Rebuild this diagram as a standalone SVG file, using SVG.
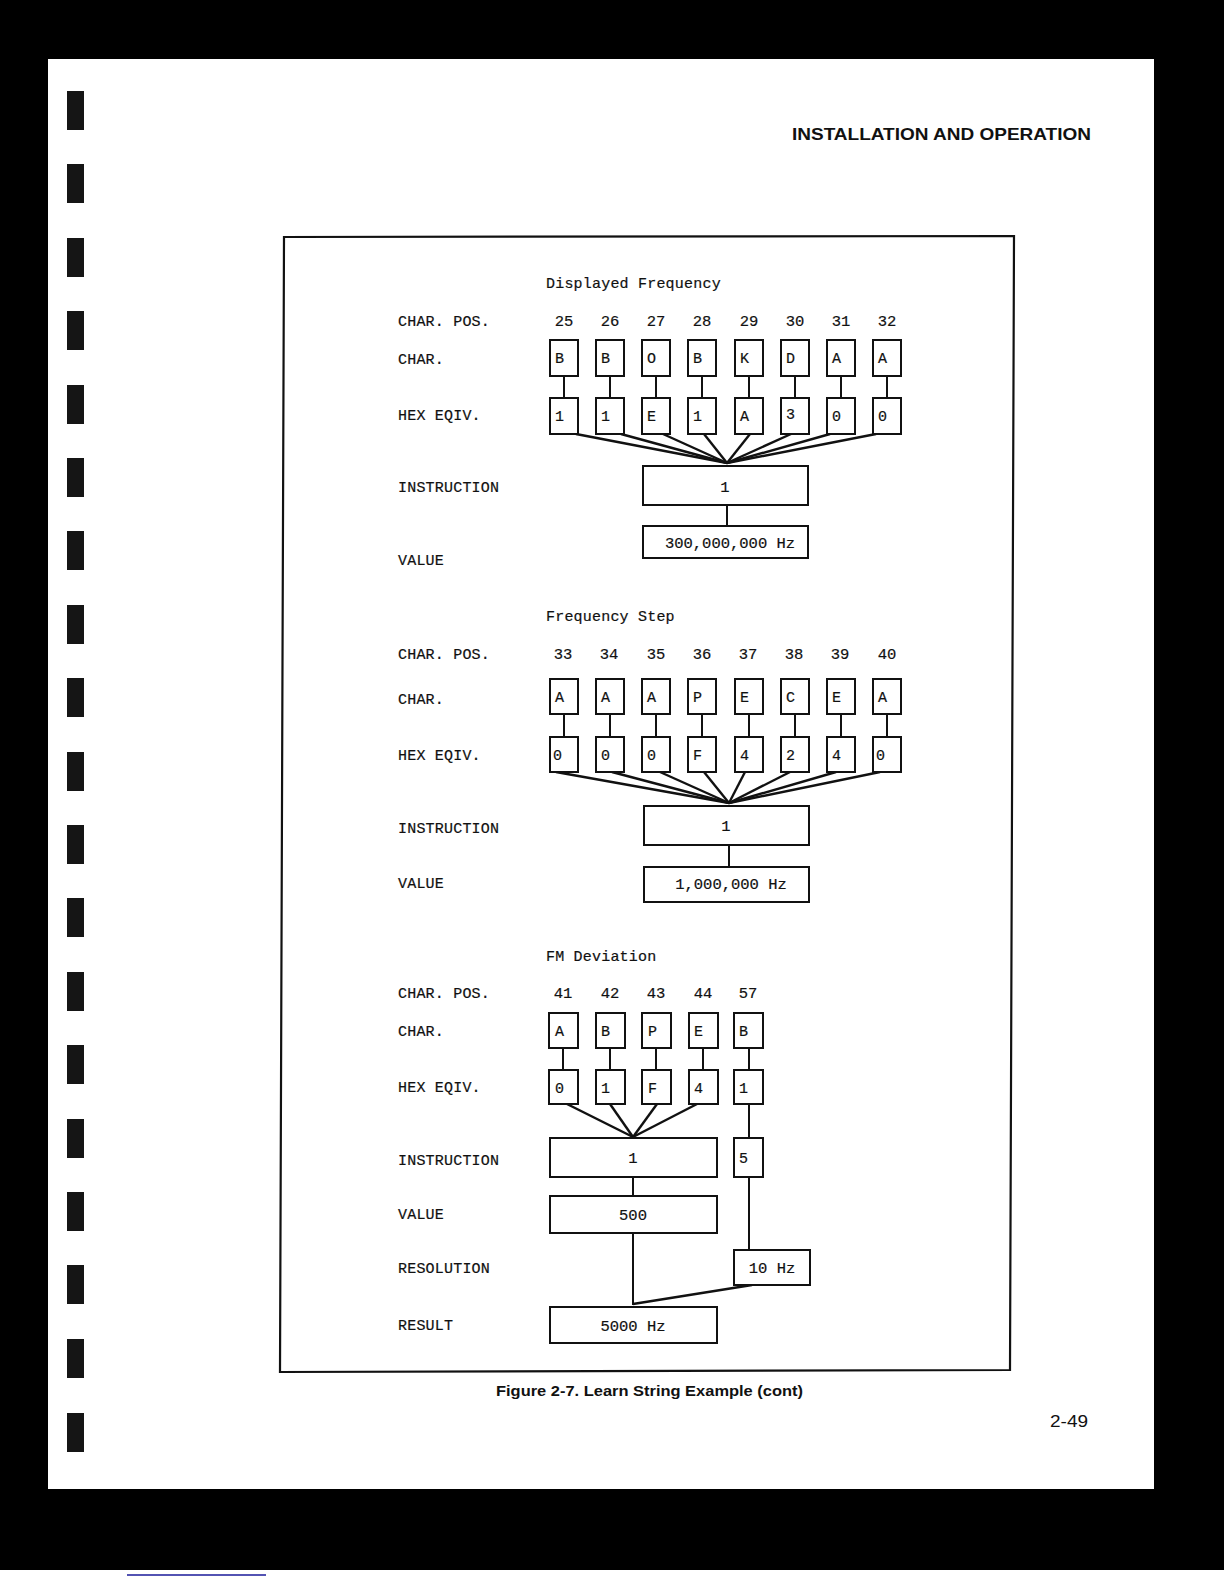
<svg xmlns="http://www.w3.org/2000/svg" width="1224" height="1584" viewBox="0 0 1224 1584">
<style>
.lbl{font-family:"Liberation Mono","DejaVu Sans Mono",monospace;font-size:15px;letter-spacing:0.2px;fill:#111;stroke:#111;stroke-width:0.2}
.num{font-family:"Liberation Mono","DejaVu Sans Mono",monospace;font-size:15.5px;fill:#111;stroke:#111;stroke-width:0.2;text-anchor:middle}
.bx{fill:#fff;stroke:#111;stroke-width:2}
.ln{stroke:#111;stroke-width:2;fill:none}
.fan{stroke:#111;stroke-width:2.4;fill:none}
.hole{fill:#151515}
</style>
<rect x="0" y="0" width="1224" height="1584" fill="#000"/>
<rect x="48" y="59" width="1106" height="1430" fill="#fff"/>
<rect x="0" y="1570" width="1224" height="14" fill="#fff"/>
<line x1="127" y1="1575" x2="266" y2="1575" stroke="#1a1a9a" stroke-width="1.5"/>
<g id="binder-holes">
<rect class="hole" x="67" y="91" width="17" height="39"/>
<rect class="hole" x="67" y="164" width="17" height="39"/>
<rect class="hole" x="67" y="238" width="17" height="39"/>
<rect class="hole" x="67" y="311" width="17" height="39"/>
<rect class="hole" x="67" y="385" width="17" height="39"/>
<rect class="hole" x="67" y="458" width="17" height="39"/>
<rect class="hole" x="67" y="531" width="17" height="39"/>
<rect class="hole" x="67" y="605" width="17" height="39"/>
<rect class="hole" x="67" y="678" width="17" height="39"/>
<rect class="hole" x="67" y="752" width="17" height="39"/>
<rect class="hole" x="67" y="825" width="17" height="39"/>
<rect class="hole" x="67" y="898" width="17" height="39"/>
<rect class="hole" x="67" y="972" width="17" height="39"/>
<rect class="hole" x="67" y="1045" width="17" height="39"/>
<rect class="hole" x="67" y="1119" width="17" height="39"/>
<rect class="hole" x="67" y="1192" width="17" height="39"/>
<rect class="hole" x="67" y="1265" width="17" height="39"/>
<rect class="hole" x="67" y="1339" width="17" height="39"/>
<rect class="hole" x="67" y="1413" width="17" height="39"/>
</g>
<text x="792" y="140" font-family="Liberation Sans,Arial,sans-serif" font-weight="bold" font-size="16.5" textLength="299" lengthAdjust="spacingAndGlyphs" fill="#111">INSTALLATION AND OPERATION</text>
<polygon id="frame" points="284,237 1014,236 1010,1370 280,1372" fill="none" stroke="#111" stroke-width="2.2"/>

<!-- Section 1: Displayed Frequency -->
<g id="sec1-labels">
<text class="lbl" x="546" y="288">Displayed Frequency</text>
<text class="lbl" x="398" y="326">CHAR. POS.</text>
<text class="lbl" x="398" y="364">CHAR.</text>
<text class="lbl" x="398" y="420">HEX EQIV.</text>
<text class="lbl" x="398" y="492">INSTRUCTION</text>
<text class="lbl" x="398" y="565">VALUE</text>
<text class="num" x="564" y="326">25</text>
<text class="num" x="610" y="326">26</text>
<text class="num" x="656" y="326">27</text>
<text class="num" x="702" y="326">28</text>
<text class="num" x="749" y="326">29</text>
<text class="num" x="795" y="326">30</text>
<text class="num" x="841" y="326">31</text>
<text class="num" x="887" y="326">32</text>
</g>
<g id="sec1-connectors">
<line class="ln" x1="564" y1="376" x2="564" y2="398"/>
<line class="ln" x1="610" y1="376" x2="610" y2="398"/>
<line class="ln" x1="656" y1="376" x2="656" y2="398"/>
<line class="ln" x1="702" y1="376" x2="702" y2="398"/>
<line class="ln" x1="749" y1="376" x2="749" y2="398"/>
<line class="ln" x1="795" y1="376" x2="795" y2="398"/>
<line class="ln" x1="841" y1="376" x2="841" y2="398"/>
<line class="ln" x1="887" y1="376" x2="887" y2="398"/>
<line class="fan" x1="576" y1="434" x2="727" y2="463"/>
<line class="fan" x1="621" y1="434" x2="727" y2="463"/>
<line class="fan" x1="663" y1="434" x2="727" y2="463"/>
<line class="fan" x1="704" y1="434" x2="727" y2="463"/>
<line class="fan" x1="750" y1="434" x2="727" y2="463"/>
<line class="fan" x1="791" y1="434" x2="727" y2="463"/>
<line class="fan" x1="830" y1="434" x2="727" y2="463"/>
<line class="fan" x1="876" y1="434" x2="727" y2="463"/>
<line class="ln" x1="727" y1="505" x2="727" y2="526"/>
</g>
<g id="sec1-char">
<rect class="bx" x="550" y="340" width="28" height="36"/><text class="lbl" x="555" y="363">B</text>
<rect class="bx" x="596" y="340" width="28" height="36"/><text class="lbl" x="601" y="363">B</text>
<rect class="bx" x="642" y="340" width="28" height="36"/><text class="lbl" x="647" y="363">O</text>
<rect class="bx" x="688" y="340" width="28" height="36"/><text class="lbl" x="693" y="363">B</text>
<rect class="bx" x="735" y="340" width="28" height="36"/><text class="lbl" x="740" y="363">K</text>
<rect class="bx" x="781" y="340" width="28" height="36"/><text class="lbl" x="786" y="363">D</text>
<rect class="bx" x="827" y="340" width="28" height="36"/><text class="lbl" x="832" y="363">A</text>
<rect class="bx" x="873" y="340" width="28" height="36"/><text class="lbl" x="878" y="363">A</text>
</g>
<g id="sec1-hex">
<rect class="bx" x="550" y="398" width="28" height="36"/><text class="lbl" x="555" y="421">1</text>
<rect class="bx" x="596" y="398" width="28" height="36"/><text class="lbl" x="601" y="421">1</text>
<rect class="bx" x="642" y="398" width="28" height="36"/><text class="lbl" x="647" y="421">E</text>
<rect class="bx" x="688" y="398" width="28" height="36"/><text class="lbl" x="693" y="421">1</text>
<rect class="bx" x="735" y="398" width="28" height="36"/><text class="lbl" x="740" y="421">A</text>
<rect class="bx" x="781" y="398" width="28" height="36"/><text class="lbl" x="786" y="419">3</text>
<rect class="bx" x="827" y="398" width="28" height="36"/><text class="lbl" x="832" y="421">0</text>
<rect class="bx" x="873" y="398" width="28" height="36"/><text class="lbl" x="878" y="421">0</text>
</g>
<g id="sec1-instruction"><rect class="bx" x="643" y="466" width="165" height="39"/><text class="num" x="725" y="492">1</text></g>
<g id="sec1-value"><rect class="bx" x="643" y="526" width="165" height="32"/><text class="num" x="730" y="548">300,000,000 Hz</text></g>

<!-- Section 2: Frequency Step -->
<g id="sec2-labels">
<text class="lbl" x="546" y="621">Frequency Step</text>
<text class="lbl" x="398" y="659">CHAR. POS.</text>
<text class="lbl" x="398" y="704">CHAR.</text>
<text class="lbl" x="398" y="760">HEX EQIV.</text>
<text class="lbl" x="398" y="833">INSTRUCTION</text>
<text class="lbl" x="398" y="888">VALUE</text>
<text class="num" x="563" y="659">33</text>
<text class="num" x="609" y="659">34</text>
<text class="num" x="656" y="659">35</text>
<text class="num" x="702" y="659">36</text>
<text class="num" x="748" y="659">37</text>
<text class="num" x="794" y="659">38</text>
<text class="num" x="840" y="659">39</text>
<text class="num" x="887" y="659">40</text>
</g>
<g id="sec2-connectors">
<line class="ln" x1="564" y1="714" x2="564" y2="737"/>
<line class="ln" x1="610" y1="714" x2="610" y2="737"/>
<line class="ln" x1="656" y1="714" x2="656" y2="737"/>
<line class="ln" x1="702" y1="714" x2="702" y2="737"/>
<line class="ln" x1="749" y1="714" x2="749" y2="737"/>
<line class="ln" x1="795" y1="714" x2="795" y2="737"/>
<line class="ln" x1="841" y1="714" x2="841" y2="737"/>
<line class="ln" x1="887" y1="714" x2="887" y2="737"/>
<line class="fan" x1="556" y1="772" x2="729" y2="803"/>
<line class="fan" x1="612" y1="772" x2="729" y2="803"/>
<line class="fan" x1="660" y1="772" x2="729" y2="803"/>
<line class="fan" x1="704" y1="772" x2="729" y2="803"/>
<line class="fan" x1="745" y1="772" x2="729" y2="803"/>
<line class="fan" x1="790" y1="772" x2="729" y2="803"/>
<line class="fan" x1="836" y1="772" x2="729" y2="803"/>
<line class="fan" x1="880" y1="772" x2="729" y2="803"/>
<line class="ln" x1="729" y1="845" x2="729" y2="867"/>
</g>
<g id="sec2-char">
<rect class="bx" x="550" y="679" width="28" height="35"/><text class="lbl" x="555" y="702">A</text>
<rect class="bx" x="596" y="679" width="28" height="35"/><text class="lbl" x="601" y="702">A</text>
<rect class="bx" x="642" y="679" width="28" height="35"/><text class="lbl" x="647" y="702">A</text>
<rect class="bx" x="688" y="679" width="28" height="35"/><text class="lbl" x="693" y="702">P</text>
<rect class="bx" x="735" y="679" width="28" height="35"/><text class="lbl" x="740" y="702">E</text>
<rect class="bx" x="781" y="679" width="28" height="35"/><text class="lbl" x="786" y="702">C</text>
<rect class="bx" x="827" y="679" width="28" height="35"/><text class="lbl" x="832" y="702">E</text>
<rect class="bx" x="873" y="679" width="28" height="35"/><text class="lbl" x="878" y="702">A</text>
</g>
<g id="sec2-hex">
<rect class="bx" x="550" y="737" width="28" height="35"/><text class="lbl" x="553" y="760">0</text>
<rect class="bx" x="596" y="737" width="28" height="35"/><text class="lbl" x="601" y="760">0</text>
<rect class="bx" x="642" y="737" width="28" height="35"/><text class="lbl" x="647" y="760">0</text>
<rect class="bx" x="688" y="737" width="28" height="35"/><text class="lbl" x="693" y="760">F</text>
<rect class="bx" x="735" y="737" width="28" height="35"/><text class="lbl" x="740" y="760">4</text>
<rect class="bx" x="781" y="737" width="28" height="35"/><text class="lbl" x="786" y="760">2</text>
<rect class="bx" x="827" y="737" width="28" height="35"/><text class="lbl" x="832" y="760">4</text>
<rect class="bx" x="873" y="737" width="28" height="35"/><text class="lbl" x="876" y="760">0</text>
</g>
<g id="sec2-instruction"><rect class="bx" x="644" y="806" width="165" height="39"/><text class="num" x="726" y="831">1</text></g>
<g id="sec2-value"><rect class="bx" x="644" y="867" width="165" height="35"/><text class="num" x="731" y="889">1,000,000 Hz</text></g>

<!-- Section 3: FM Deviation -->
<g id="sec3-labels">
<text class="lbl" x="546" y="961">FM Deviation</text>
<text class="lbl" x="398" y="998">CHAR. POS.</text>
<text class="lbl" x="398" y="1036">CHAR.</text>
<text class="lbl" x="398" y="1092">HEX EQIV.</text>
<text class="lbl" x="398" y="1165">INSTRUCTION</text>
<text class="lbl" x="398" y="1219">VALUE</text>
<text class="lbl" x="398" y="1273">RESOLUTION</text>
<text class="lbl" x="398" y="1330">RESULT</text>
<text class="num" x="563" y="998">41</text>
<text class="num" x="610" y="998">42</text>
<text class="num" x="656" y="998">43</text>
<text class="num" x="703" y="998">44</text>
<text class="num" x="748" y="998">57</text>
</g>
<g id="sec3-connectors">
<line class="ln" x1="563" y1="1048" x2="563" y2="1070"/>
<line class="ln" x1="610" y1="1048" x2="610" y2="1070"/>
<line class="ln" x1="656" y1="1048" x2="656" y2="1070"/>
<line class="ln" x1="703" y1="1048" x2="703" y2="1070"/>
<line class="ln" x1="749" y1="1048" x2="749" y2="1070"/>
<line class="fan" x1="567" y1="1104" x2="633" y2="1137"/>
<line class="fan" x1="610" y1="1104" x2="633" y2="1137"/>
<line class="fan" x1="657" y1="1104" x2="633" y2="1137"/>
<line class="fan" x1="697" y1="1104" x2="633" y2="1137"/>
<line class="ln" x1="749" y1="1104" x2="749" y2="1138"/>
<line class="ln" x1="633" y1="1177" x2="633" y2="1196"/>
<line class="ln" x1="749" y1="1177" x2="749" y2="1250"/>
<line class="ln" x1="633" y1="1233" x2="633" y2="1305"/>
<line class="fan" x1="752" y1="1285" x2="633" y2="1304"/>
</g>
<g id="sec3-char">
<rect class="bx" x="549" y="1013" width="29" height="35"/><text class="lbl" x="555" y="1036">A</text>
<rect class="bx" x="596" y="1013" width="29" height="35"/><text class="lbl" x="601" y="1036">B</text>
<rect class="bx" x="642" y="1013" width="29" height="35"/><text class="lbl" x="648" y="1036">P</text>
<rect class="bx" x="689" y="1013" width="29" height="35"/><text class="lbl" x="694" y="1036">E</text>
<rect class="bx" x="734" y="1013" width="29" height="35"/><text class="lbl" x="739" y="1036">B</text>
</g>
<g id="sec3-hex">
<rect class="bx" x="549" y="1070" width="29" height="34"/><text class="lbl" x="555" y="1093">0</text>
<rect class="bx" x="596" y="1070" width="29" height="34"/><text class="lbl" x="601" y="1093">1</text>
<rect class="bx" x="642" y="1070" width="29" height="34"/><text class="lbl" x="648" y="1093">F</text>
<rect class="bx" x="689" y="1070" width="29" height="34"/><text class="lbl" x="694" y="1093">4</text>
<rect class="bx" x="734" y="1070" width="29" height="34"/><text class="lbl" x="739" y="1093">1</text>
</g>
<g id="sec3-instruction"><rect class="bx" x="550" y="1138" width="167" height="39"/><text class="num" x="633" y="1163">1</text></g>
<g id="sec3-instr5"><rect class="bx" x="734" y="1138" width="29" height="39"/><text class="lbl" x="739" y="1163">5</text></g>
<g id="sec3-value"><rect class="bx" x="550" y="1196" width="167" height="37"/><text class="num" x="633" y="1220">500</text></g>
<g id="sec3-resolution"><rect class="bx" x="734" y="1250" width="76" height="35"/><text class="num" x="772" y="1273">10 Hz</text></g>
<g id="sec3-result"><rect class="bx" x="550" y="1307" width="167" height="36"/><text class="num" x="633" y="1331">5000 Hz</text></g>

<text x="496" y="1396" font-family="Liberation Sans,Arial,sans-serif" font-weight="bold" font-size="15" textLength="307" lengthAdjust="spacingAndGlyphs" fill="#111">Figure 2-7. Learn String Example (cont)</text>
<text x="1050" y="1427" font-family="Liberation Sans,Arial,sans-serif" font-size="16" textLength="38" lengthAdjust="spacingAndGlyphs" fill="#111">2-49</text>
</svg>
